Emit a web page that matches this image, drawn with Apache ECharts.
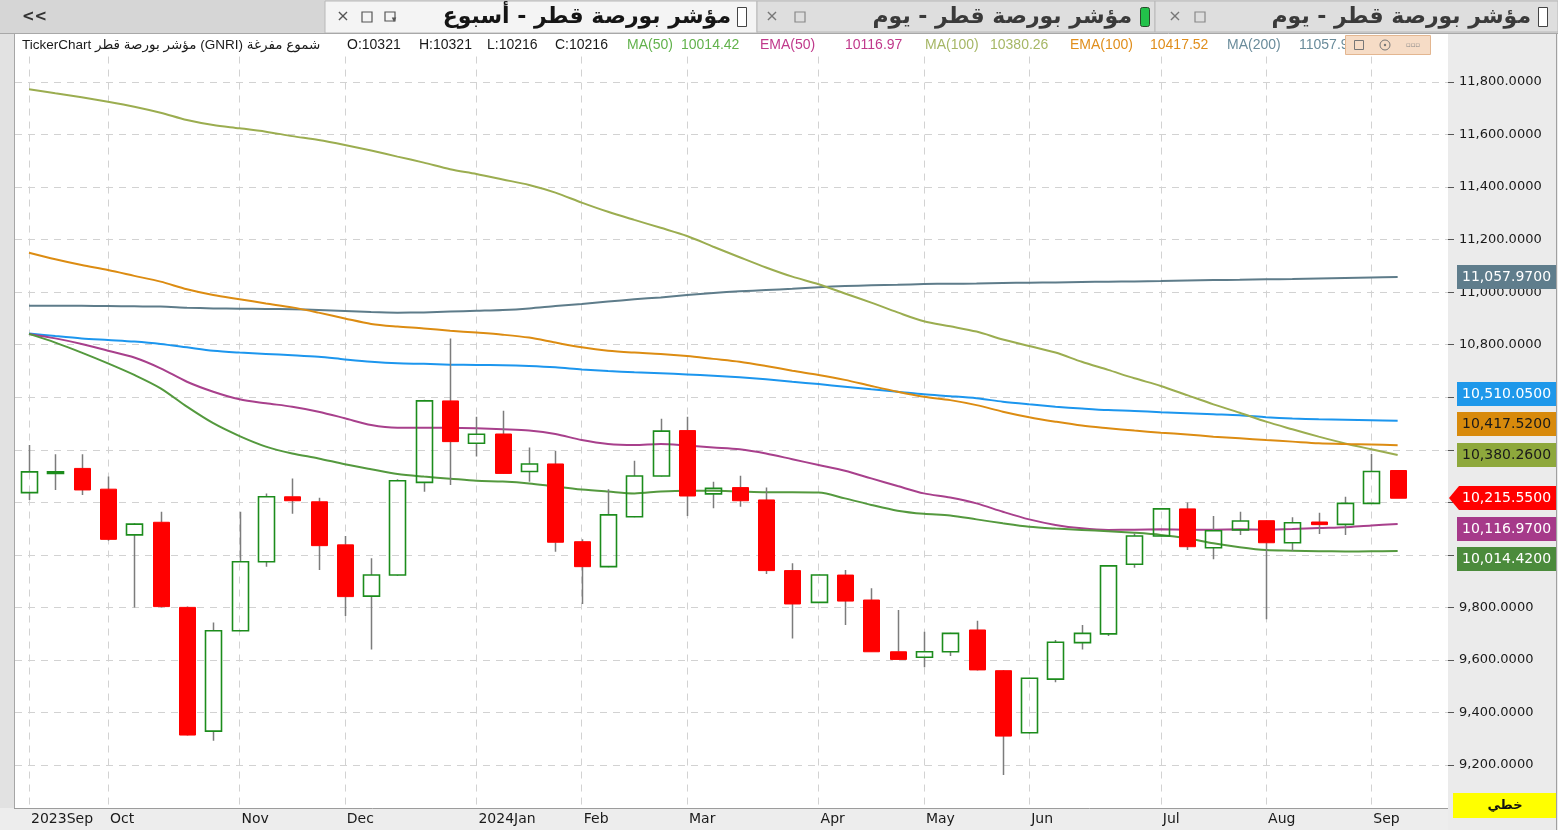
<!DOCTYPE html>
<html><head><meta charset="utf-8">
<script src="https://cdn.jsdelivr.net/npm/echarts@6/dist/echarts.min.js"></script>
<style>html,body{margin:0;padding:0;background:#fff;overflow:hidden}#c{width:1558px;height:830px}</style>
</head><body><div id="c"></div>
<script>
// ---- data (weekly candles, index 0 = first week shown) ----
const opens  = [10237,10313,10329,10250,10076,10124,9800,9329,9711,9974,10221,10202,10038,9843,9923,10276,10586,10425,10460,10317,10346,10050,9955,10145,10300,10473,10232,10256,10209,9940,9819,9923,9828,9631,9610,9631,9714,9559,9323,9527,9666,9699,9964,10072,10175,10027,10095,10130,10046,10125,10116,10196,10321];
const highs  = [10418,10383,10383,10298,10120,10164,9803,9742,10164,10234,10291,10217,10072,9987,10288,10590,10824,10526,10549,10409,10396,10059,10250,10358,10518,10526,10278,10301,10256,9968,9925,9942,9873,9790,9707,9703,9749,9562,9532,9676,9733,9960,10082,10178,10199,10148,10164,10132,10143,10160,10221,10384,10321];
const lows   = [10209,10247,10228,10054,9800,9800,9312,9292,9709,9955,10156,9942,9767,9640,9920,10240,10266,10374,10308,10278,10012,9813,9953,10143,10298,10148,10177,10183,9927,9682,9817,9733,9630,9601,9572,9615,9560,9162,9320,9515,9640,9691,9951,10070,10018,9983,10076,9755,10016,10079,10076,10195,10215.55];
const closes = [10316,10316,10247,10059,10117,9803,9314,9711,9974,10221,10206,10035,9841,9923,10282,10586,10431,10459,10310,10346,10048,9955,10152,10300,10471,10224,10253,10206,9940,9813,9923,9824,9631,9602,9631,9701,9562,9310,9530,9667,9701,9958,10072,10175,10031,10092,10129,10046,10122,10115,10196,10317,10215.55];

const ma50   = [10841,10808,10770,10729,10685,10634,10564,10501,10452,10412,10386,10367,10345,10326,10308,10298,10290,10282,10279,10272,10260,10249,10241,10234,10241,10244,10244,10241,10238,10238,10237,10215,10190,10168,10156,10150,10135,10120,10107,10100,10095,10090,10084,10076,10063,10044,10029,10018,10016,10014,10013,10013.5,10014.42];
const ema50  = [10841,10824,10803,10777,10751,10710,10659,10621,10592,10577,10564,10545,10520,10494,10484,10484,10484,10482,10478,10473,10460,10437,10422,10418,10422,10416,10409,10402,10386,10364,10342,10320,10291,10262,10234,10218,10196,10164,10135,10114,10101,10095,10096,10097,10096,10096,10097,10096,10098,10102,10105,10112,10116.97];
const ma100  = [11772,11757,11742,11725,11706,11683,11655,11636,11624,11611,11594,11579,11560,11539,11516,11493,11468,11450,11429,11408,11379,11341,11306,11275,11245,11214,11173,11133,11094,11059,11030,10995,10960,10923,10889,10870,10850,10820,10795,10770,10735,10704,10672,10643,10608,10573,10541,10507,10478,10450,10424,10402,10380.26];
const ema100 = [11150,11125,11103,11084,11062,11040,11011,10989,10973,10957,10942,10922,10900,10879,10869,10862,10853,10846,10838,10827,10808,10790,10777,10770,10765,10757,10746,10735,10719,10701,10685,10666,10643,10621,10602,10589,10570,10545,10524,10507,10492,10482,10473,10465,10458,10450,10444,10437,10431,10425,10422,10420,10417.52];
const ma200  = [10948,10948,10948,10947,10946,10945,10941,10938,10937,10936,10935,10932,10928,10924,10922,10923,10926,10929,10932,10938,10947,10955,10964,10973,10980,10989,10997,11003,11008,11013,11019,11023,11026,11028,11031,11032,11033,11035,11036,11037,11039,11040,11041,11042,11044,11046,11047,11049,11050,11052,11054,11056,11057.97];
const ema200 = [10843,10833,10824,10818,10812,10803,10790,10777,10770,10765,10760,10754,10744,10735,10729,10727,10724,10723,10722,10719,10714,10706,10700,10695,10691,10687,10682,10676,10668,10659,10650,10640,10630,10621,10611,10604,10596,10583,10573,10564,10557,10551,10548,10543,10539,10535,10531,10524,10519,10516,10514,10512,10510.05];

const monthTickIdx = [0,3,8,12,17,21,25,30,34,38,43,47,51];
const monthLabels  = ['2023Sep','Oct','Nov','Dec','2024Jan','Feb','Mar','Apr','May','Jun','Jul','Aug','Sep'];
const yTicks = [9200,9400,9600,9800,10000,10200,10400,10600,10800,11000,11200,11400,11600,11800];

const instrument = 'TickerChart مؤشر بورصة قطر (GNRI) شموع مفرغة';
const tabTitles = ['مؤشر بورصة قطر - أسبوع','مؤشر بورصة قطر - يوم','مؤشر بورصة قطر - يوم'];
const chartTypeLabel = 'خطي';

// ---- helpers ----
const last = a => a[a.length - 1];
const fmt4 = v => Number(v).toLocaleString('en-US', {minimumFractionDigits: 4, maximumFractionDigits: 4});
const pairs = arr => arr.map((v, i) => [i, v]);

const C = {
  ma50: '#54993e', ema50: '#a8408c', ma100: '#9bad50', ema100: '#dc8c12', ma200: '#5e7c8a', ema200: '#1c96ee'
};

const chart = echarts.init(document.getElementById('c'), null, {renderer: 'canvas'});

const lineSeries = (name, arr, color) => ({
  type: 'line', name, data: pairs(arr), showSymbol: false, symbol: 'none', silent: true, z: 2,
  lineStyle: {color, width: 2}, itemStyle: {color}, smooth: 0.3
});

const F = '"DejaVu Sans", "Liberation Sans", sans-serif';
const FA = '"Liberation Sans", "DejaVu Sans", sans-serif';

const staticGraphics = [
  // tab bar
  {id: 'tabbg', type: 'rect', z: 6, shape: {x: 0, y: 0, width: 1558, height: 33}, style: {fill: '#d6d6d6'}},
  {id: 'tab1', type: 'rect', z: 6, shape: {x: 325, y: 1, width: 432, height: 32}, style: {fill: '#f4f4f4', stroke: '#b8b8b8', lineWidth: 1}},
  {id: 'tab2', type: 'rect', z: 6, shape: {x: 757, y: 1, width: 398, height: 31}, style: {fill: '#dedede', stroke: '#b8b8b8', lineWidth: 1}},
  {id: 'tab3', type: 'rect', z: 6, shape: {x: 1155, y: 1, width: 403, height: 31}, style: {fill: '#dedede', stroke: '#b8b8b8', lineWidth: 1}},
  {id: 'tabline', type: 'line', z: 6, shape: {x1: 0, y1: 33.5, x2: 1558, y2: 33.5}, style: {stroke: '#a8a8a8', lineWidth: 1}},
  {id: 'chev', type: 'text', z: 7, x: 22, y: 17, style: {text: '<<', font: 'bold 15px ' + F, fill: '#333', verticalAlign: 'middle'}},
  // active tab
  {id: 't1x', type: 'text', z: 7, x: 343, y: 17, style: {text: '×', font: '16px ' + F, fill: '#555', align: 'center', verticalAlign: 'middle'}},
  {id: 't1b', type: 'rect', z: 7, shape: {x: 362, y: 12, width: 10, height: 10}, style: {fill: 'none', stroke: '#555', lineWidth: 1.2}},
  {id: 't1c', type: 'rect', z: 7, shape: {x: 385, y: 12, width: 10, height: 9}, style: {fill: 'none', stroke: '#555', lineWidth: 1.2}},
  {id: 't1d', type: 'text', z: 7, x: 394, y: 20, style: {text: '▾', font: '9px ' + F, fill: '#555', align: 'center', verticalAlign: 'middle'}},
  {id: 't1t', type: 'text', z: 7, x: 731, y: 17, style: {text: tabTitles[0], font: 'bold 22px ' + F, fill: '#151515', align: 'right', verticalAlign: 'middle'}},
  {id: 't1i', type: 'rect', z: 7, shape: {x: 737.5, y: 7.5, width: 9, height: 19}, style: {fill: '#fff', stroke: '#444', lineWidth: 1}},
  // tab 2
  {id: 't2x', type: 'text', z: 7, x: 772, y: 17, style: {text: '×', font: '16px ' + F, fill: '#777', align: 'center', verticalAlign: 'middle'}},
  {id: 't2b', type: 'rect', z: 7, shape: {x: 795, y: 12, width: 10, height: 10}, style: {fill: 'none', stroke: '#888', lineWidth: 1.2}},
  {id: 't2t', type: 'text', z: 7, x: 1132, y: 17, style: {text: tabTitles[1], font: 'bold 22px ' + F, fill: '#3a3a3a', align: 'right', verticalAlign: 'middle'}},
  {id: 't2i', type: 'rect', z: 7, shape: {x: 1140.5, y: 7.5, width: 9, height: 19, r: 2}, style: {fill: '#22c24a', stroke: '#2a4a2a', lineWidth: 1}},
  // tab 3
  {id: 't3x', type: 'text', z: 7, x: 1175, y: 17, style: {text: '×', font: '16px ' + F, fill: '#777', align: 'center', verticalAlign: 'middle'}},
  {id: 't3b', type: 'rect', z: 7, shape: {x: 1195, y: 12, width: 10, height: 10}, style: {fill: 'none', stroke: '#888', lineWidth: 1.2}},
  {id: 't3t', type: 'text', z: 7, x: 1531, y: 17, style: {text: tabTitles[2], font: 'bold 22px ' + F, fill: '#3a3a3a', align: 'right', verticalAlign: 'middle'}},
  {id: 't3i', type: 'rect', z: 7, shape: {x: 1538.5, y: 7.5, width: 9, height: 19}, style: {fill: '#fff', stroke: '#444', lineWidth: 1}},
  // info row band
  {id: 'infobg', type: 'rect', z: 6, shape: {x: 15, y: 34, width: 1433, height: 19}, style: {fill: '#ffffff'}},
  // left strip
  {id: 'lstrip', type: 'rect', z: 6, shape: {x: 0, y: 34, width: 14, height: 796}, style: {fill: '#e2e2e2'}},
  {id: 'lline', type: 'line', z: 6, shape: {x1: 14.5, y1: 34, x2: 14.5, y2: 830}, style: {stroke: '#a6a6a6', lineWidth: 1}},
  // bottom band
  {id: 'bband', type: 'rect', z: 6, shape: {x: 0, y: 808, width: 1448, height: 22}, style: {fill: '#ededed'}},
  {id: 'bline', type: 'line', z: 6, shape: {x1: 14, y1: 808.5, x2: 1448, y2: 808.5}, style: {stroke: '#9c9c9c', lineWidth: 1}},
  // right axis panel
  {id: 'rpanel', type: 'rect', z: 6, shape: {x: 1448, y: 34, width: 110, height: 796}, style: {fill: '#ebebeb'}},
  {id: 'rline', type: 'line', z: 6, shape: {x1: 1556.5, y1: 34, x2: 1556.5, y2: 830}, style: {stroke: '#a0a0a0', lineWidth: 1}},
  // chart type box
  {id: 'ybox', type: 'rect', z: 7, shape: {x: 1453, y: 793, width: 103, height: 25}, style: {fill: '#ffff00'}},
  {id: 'ytxt', type: 'text', z: 8, x: 1505, y: 805.5, style: {text: chartTypeLabel, font: 'bold 13px ' + F, fill: '#111', align: 'center', verticalAlign: 'middle'}},
  // config box in info row
  {id: 'cfg', type: 'rect', z: 8, shape: {x: 1345.5, y: 35.5, width: 85, height: 19}, style: {fill: '#f6dcc6', stroke: '#e3b690', lineWidth: 1}},
  {id: 'cfg1', type: 'rect', z: 9, shape: {x: 1354.5, y: 40.5, width: 9, height: 9}, style: {fill: 'none', stroke: '#777', lineWidth: 1}},
  {id: 'cfg2', type: 'circle', z: 9, shape: {cx: 1385, cy: 45, r: 5}, style: {fill: 'none', stroke: '#777', lineWidth: 1}},
  {id: 'cfg2b', type: 'circle', z: 9, shape: {cx: 1385, cy: 45, r: 1.2}, style: {fill: '#777'}},
  {id: 'cfg3', type: 'text', z: 9, x: 1413, y: 45, style: {text: '▫▫▫', font: '7px ' + F, fill: '#888', align: 'center', verticalAlign: 'middle'}}
];

// info row texts built from data
const infoItems = [
  {x: 22, t: instrument, c: '#1a1a1a', f: '13.5px ' + FA},
  {x: 347, t: 'O:' + Math.round(last(opens)), c: '#1a1a1a'},
  {x: 419, t: 'H:' + Math.round(last(highs)), c: '#1a1a1a'},
  {x: 487, t: 'L:' + Math.round(last(lows)), c: '#1a1a1a'},
  {x: 555, t: 'C:' + Math.round(last(closes)), c: '#1a1a1a'},
  {x: 627, t: 'MA(50)', c: '#62b24c'},
  {x: 681, t: last(ma50).toFixed(2), c: '#62b24c'},
  {x: 760, t: 'EMA(50)', c: '#c0398b'},
  {x: 845, t: last(ema50).toFixed(2), c: '#c0398b'},
  {x: 925, t: 'MA(100)', c: '#a6b765'},
  {x: 990, t: last(ma100).toFixed(2), c: '#a6b765'},
  {x: 1070, t: 'EMA(100)', c: '#e08e1c'},
  {x: 1150, t: last(ema100).toFixed(2), c: '#e08e1c'},
  {x: 1227, t: 'MA(200)', c: '#6a8c9b'},
  {x: 1299, t: last(ma200).toFixed(2), c: '#6a8c9b'}
];
infoItems.forEach((it, k) => staticGraphics.push({
  id: 'info' + k, type: 'text', z: 7, x: it.x, y: 45,
  style: {text: it.t, font: it.f || ('14px ' + FA), fill: it.c, verticalAlign: 'middle'}
}));

const option = {
  animation: false,
  backgroundColor: '#ffffff',
  grid: {left: 15, right: 110, top: 29.46, bottom: 12.46, containLabel: false},
  xAxis: [{
    type: 'value', min: -0.532, max: 53.913, offset: -9.5, z: 10,
    axisLine: {show: false}, axisTick: {show: false}, splitLine: {show: false},
    axisLabel: {
      customValues: monthTickIdx,
      formatter: v => monthLabels[monthTickIdx.indexOf(Math.round(v))] || '',
      align: 'left', margin: 4, padding: [0, 0, 0, 2],
      color: '#1a1a1a', fontSize: 14, fontFamily: 'DejaVu Sans'
    }
  }],
  yAxis: [{
    type: 'value', position: 'right', min: 9000, max: 12000, interval: 200, z: 0,
    axisLine: {show: false}, axisTick: {show: false}, axisLabel: {show: false},
    splitLine: {show: true, showMinLine: false, showMaxLine: false, lineStyle: {color: '#d2d2d2', type: [7, 6], width: 1}}
  }, {
    type: 'value', position: 'right', min: 9000, max: 12000, interval: 200, z: 10,
    axisLine: {show: false},
    axisTick: {show: true, customValues: yTicks, length: 6, lineStyle: {color: '#555'}},
    axisLabel: {customValues: yTicks, formatter: v => fmt4(v), margin: 11, color: '#1a1a1a', fontSize: 13, fontFamily: 'DejaVu Sans'},
    splitLine: {show: false}
  }],
  series: [
    {
      type: 'line', name: 'grid-v', data: [], z: 1, silent: true,
      markLine: {
        silent: true, z: 1, symbol: ['none', 'none'], label: {show: false}, animation: false,
        lineStyle: {color: '#d2d2d2', type: [7, 6], width: 1},
        data: monthTickIdx.map(i => ({xAxis: i}))
      }
    },
    lineSeries('MA(200)', ma200, C.ma200),
    lineSeries('EMA(200)', ema200, C.ema200),
    lineSeries('MA(100)', ma100, C.ma100),
    lineSeries('EMA(100)', ema100, C.ema100),
    lineSeries('EMA(50)', ema50, C.ema50),
    lineSeries('MA(50)', ma50, C.ma50),
    {
      type: 'custom', name: 'candles', z: 3, silent: true, clip: true,
      data: opens.map((o, i) => [i, o, closes[i], lows[i], highs[i]]),
      encode: {x: 0, y: [1, 2, 3, 4]},
      renderItem: (params, api) => {
        const x = api.value(0), o = api.value(1), c = api.value(2), l = api.value(3), h = api.value(4);
        const up = c >= o;
        const pO = api.coord([x, o]), pC = api.coord([x, c]), pH = api.coord([x, h]), pL = api.coord([x, l]);
        const cx = Math.round(pO[0]) + 0.5;
        const top = Math.min(pO[1], pC[1]), bot = Math.max(pO[1], pC[1]);
        const bh = Math.max(bot - top, 1.5);
        const w = 16;
        const wick = {stroke: '#7c7c7c', lineWidth: 1.5};
        return {type: 'group', children: [
          {type: 'line', shape: {x1: cx, y1: pH[1], x2: cx, y2: top}, style: wick},
          {type: 'line', shape: {x1: cx, y1: top + bh, x2: cx, y2: pL[1]}, style: wick},
          {type: 'rect', shape: {x: cx - w / 2, y: top, width: w, height: bh},
            style: up ? {fill: 'rgba(255,255,255,0)', stroke: '#1c8c1c', lineWidth: 1.6}
                      : {fill: '#ff0000', stroke: '#ff0000', lineWidth: 1}}
        ]};
      }
    }
  ],
  graphic: {elements: staticGraphics}
};

chart.setOption(option);

// ---- value tags on the price axis (positions from the axis scale) ----
const tags = [
  {v: last(ma200), bg: '#5f7d8c', fg: '#ffffff'},
  {v: last(ema200), bg: '#1e98ea', fg: '#ffffff'},
  {v: last(ema100), bg: '#d88a0c', fg: '#1a1a1a'},
  {v: last(ma100), bg: '#8ea83c', fg: '#1a1a1a'},
  {v: last(closes), bg: '#ff0000', fg: '#ffffff', anchor: true},
  {v: last(ema50), bg: '#a63a8a', fg: '#ffffff'},
  {v: last(ma50), bg: '#4b8b3c', fg: '#ffffff'}
];
tags.forEach(t => { t.y = chart.convertToPixel({yAxisIndex: 0}, t.v); });
tags.sort((a, b) => a.y - b.y);
const ai = tags.findIndex(t => t.anchor);
const GAP = 30.5;
for (let k = ai - 1; k >= 0; k--) tags[k].y = Math.min(tags[k].y, tags[k + 1].y - GAP);
for (let k = ai + 1; k < tags.length; k++) tags[k].y = Math.max(tags[k].y, tags[k - 1].y + GAP);

const tagEls = [];
tags.forEach((t, k) => {
  const y = Math.round(t.y);
  if (t.anchor) {
    tagEls.push({id: 'tagbg' + k, type: 'polygon', z: 12,
      shape: {points: [[1449, y], [1459, y - 12], [1556, y - 12], [1556, y + 12], [1459, y + 12]]},
      style: {fill: t.bg}});
  } else {
    tagEls.push({id: 'tagbg' + k, type: 'rect', z: 12, shape: {x: 1457, y: y - 12, width: 99, height: 24}, style: {fill: t.bg}});
  }
  tagEls.push({id: 'tagtx' + k, type: 'text', z: 13, x: 1462, y: y + 0.5,
    style: {text: fmt4(t.v), font: '14px "DejaVu Sans"', fill: t.fg, verticalAlign: 'middle'}});
});
chart.setOption({graphic: {elements: tagEls}});
</script>
</body></html>
